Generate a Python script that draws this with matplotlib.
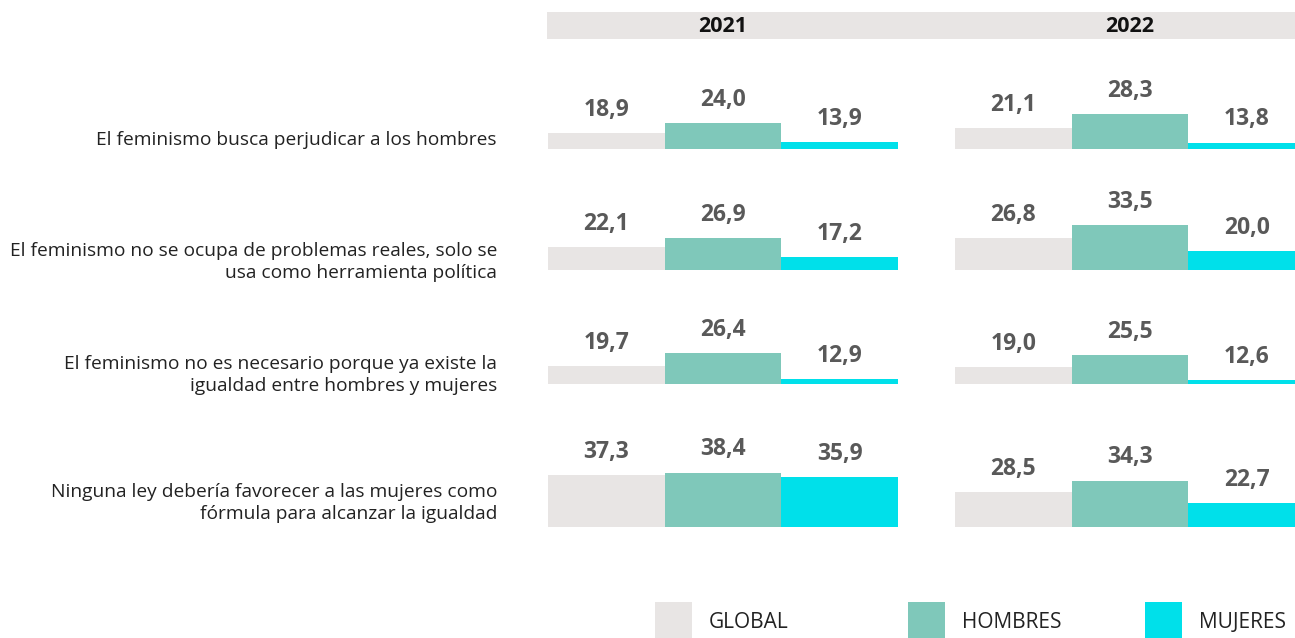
import matplotlib.pyplot as plt
from matplotlib.patches import Rectangle

plt.rcParams['font.family'] = ['Open Sans', 'DejaVu Sans']

years = ["2021", "2022"]
statements = [
    "El feminismo busca perjudicar a los hombres",
    "El feminismo no se ocupa de problemas reales, solo se\nusa como herramienta política",
    "El feminismo no es necesario porque ya existe la\nigualdad entre hombres y mujeres",
    "Ninguna ley debería favorecer a las mujeres como\nfórmula para alcanzar la igualdad",
]
groups = ["GLOBAL", "HOMBRES", "MUJERES"]
colors = ["#e8e5e4", "#7fc8ba", "#00e0ea"]

# values per statement: [global, hombres, mujeres]
vals_2021 = [
    [18.9, 24.0, 13.9],
    [22.1, 26.9, 17.2],
    [19.7, 26.4, 12.9],
    [37.3, 38.4, 35.9],
]
vals_2022 = [
    [21.1, 28.3, 13.8],
    [26.8, 33.5, 20.0],
    [19.0, 25.5, 12.6],
    [28.5, 34.3, 22.7],
]
data = {"2021": vals_2021, "2022": vals_2022}

W, H = 1295, 638
fig = plt.figure(figsize=(W / 100, H / 100), dpi=100)

# pixel layout
panel_left = {"2021": 548, "2022": 955}
panel_width = 350
row_base = [149, 270, 384, 527]
ax_h = 90
ymin = 10.5
px_per_unit = 1.95

def fx(px):
    return px / W

def fy(px):
    return 1 - px / H

for yr in years:
    for i, row in enumerate(data[yr]):
        ax = fig.add_axes([fx(panel_left[yr]), fy(row_base[i]), fx(panel_width), ax_h / H])
        ax.bar(range(3), [v - ymin for v in row], bottom=ymin, width=1.0, color=colors)
        ax.set_xlim(-0.5, 2.5)
        ax.set_ylim(ymin, ymin + ax_h / px_per_unit)
        ax.axis("off")
        for j, v in enumerate(row):
            ax.annotate(f"{v:.1f}".replace(".", ","), xy=(j, v), xytext=(0, 8),
                        textcoords="offset points", ha="center", va="bottom",
                        fontsize=16.5, fontweight="bold", color="#595959")

# year header band
fig.add_artist(Rectangle((fx(547), fy(39)), fx(W - 547), 27 / H, transform=fig.transFigure,
                         color="#e8e5e4", lw=0, zorder=0))
for yr in years:
    fig.text(fx(panel_left[yr] + panel_width / 2), fy(26), yr, ha="center", va="center",
             fontsize=15.5, fontweight="bold", color="#111111")

# statement labels
label_y = [140, 262, 375, 503]
for s, y in zip(statements, label_y):
    fig.text(fx(497), fy(y), s, ha="right", va="center", fontsize=13.8,
             color="#222222", linespacing=1.3)

# legend
leg_sq = [655, 908, 1145]
for g, c, x in zip(groups, colors, leg_sq):
    fig.add_artist(Rectangle((fx(x), fy(640)), fx(37), 38 / H, transform=fig.transFigure,
                             color=c, lw=0))
    fig.text(fx(x + 54), fy(623), g, ha="left", va="center", fontsize=15, color="#222222")

fig.savefig("out.png", dpi=100)
